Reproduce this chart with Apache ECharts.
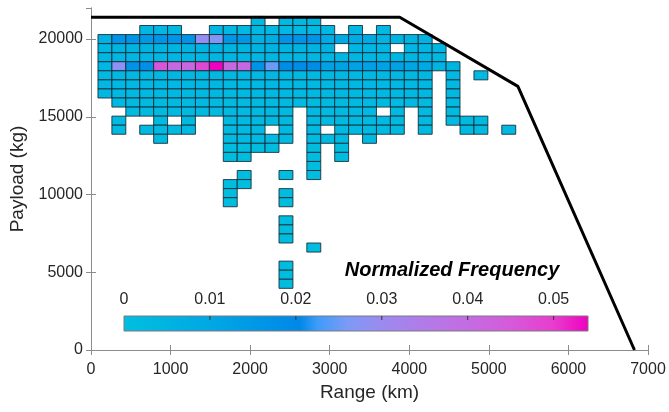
<!DOCTYPE html>
<html>
<head>
<meta charset="utf-8">
<script src="https://cdn.jsdelivr.net/npm/echarts@6/dist/echarts.min.js"></script>
<style>
html,body{margin:0;padding:0;background:#fff;}
#chart{width:669px;height:412px;}
</style>
</head>
<body>
<div id="chart"></div>
<script>
// ---- data ----
const rangeCenters = [175,350,525,700,875,1050,1225,1400,1575,1750,1925,2100,2275,2450,2625,2800,2975,3150,3325,3500,3675,3850,4025,4200,4375,4550,4725,4900,5075,5250,5425];
const payloadCenters = [21166,20583,20000,19417,18834,18251,17668,17085,16502,15919,15336,14753,14170,13587,13004,12421,11838,11255,10672,10089,9506,8923,8340,7757,7174,6591,6008,5425,4842,4259];
// normalized frequency per cell, in units of 0.001 (0 = empty); one row per payload bin, one entry per range bin
const freqRows = [
 [0,0,0,0,0,0,0,0,0,0,0,2,0,2,2,2,0,0,0,0,0,0,0,0,0,0,0,0,0,0,0],
 [0,0,0,3,3,3,0,0,3,3,3,3,3,3,3,3,3,0,3,0,3,0,0,0,0,0,0,0,0,0,0],
 [6,17,17,15,17,17,17,29,27,16,16,6,8,17,17,17,9,9,9,9,5,5,5,5,0,0,0,0,0,0,0],
 [4,5,5,5,5,5,5,5,5,5,5,5,5,5,5,5,5,0,4,4,4,0,4,4,4,0,0,0,0,0,0],
 [4,4,4,4,4,4,4,4,4,4,4,4,4,4,4,4,4,4,4,4,4,4,4,4,3,0,0,0,0,0,0],
 [4,28,17,18,46,41,41,48,54,41,41,17,25,19,19,19,12,12,12,12,12,12,11,10,5,5,0,0,0,0,0],
 [3,3,3,3,3,3,3,3,3,3,3,3,3,3,3,3,3,3,3,3,3,3,3,3,0,3,0,2,0,0,0],
 [3,3,3,3,3,3,3,3,3,3,3,3,3,3,3,3,3,3,3,3,3,3,3,3,0,3,0,0,0,0,0],
 [3,3,3,3,3,3,3,3,3,3,3,3,3,3,3,3,3,3,3,3,3,3,3,3,0,3,0,0,0,0,0],
 [0,2,2,2,2,2,2,2,2,2,2,2,2,2,2,2,2,2,2,2,2,2,2,2,0,2,0,0,0,0,0],
 [0,0,2,2,2,2,2,2,2,2,2,2,2,2,0,2,2,2,2,2,0,2,0,2,0,2,0,0,0,0,0],
 [0,2,0,0,2,0,2,0,0,2,2,2,2,2,0,2,2,2,2,2,2,2,0,2,0,2,2,2,0,0,0],
 [0,2,0,2,2,2,2,0,0,2,2,2,0,2,0,2,0,2,2,2,2,2,0,2,0,0,2,2,0,2,0],
 [0,0,0,0,2,0,0,0,0,2,2,2,2,2,0,2,2,2,0,2,0,0,0,0,0,0,0,0,0,0,0],
 [0,0,0,0,0,0,0,0,0,1,1,1,1,0,0,1,0,1,0,0,0,0,0,0,0,0,0,0,0,0,0],
 [0,0,0,0,0,0,0,0,0,1,1,0,0,0,0,1,0,1,0,0,0,0,0,0,0,0,0,0,0,0,0],
 [0,0,0,0,0,0,0,0,0,0,0,0,0,0,0,1,0,0,0,0,0,0,0,0,0,0,0,0,0,0,0],
 [0,0,0,0,0,0,0,0,0,0,1,0,0,1,0,1,0,0,0,0,0,0,0,0,0,0,0,0,0,0,0],
 [0,0,0,0,0,0,0,0,0,1,1,0,0,0,0,0,0,0,0,0,0,0,0,0,0,0,0,0,0,0,0],
 [0,0,0,0,0,0,0,0,0,1,0,0,0,1,0,0,0,0,0,0,0,0,0,0,0,0,0,0,0,0,0],
 [0,0,0,0,0,0,0,0,0,1,0,0,0,1,0,0,0,0,0,0,0,0,0,0,0,0,0,0,0,0,0],
 [0,0,0,0,0,0,0,0,0,0,0,0,0,0,0,0,0,0,0,0,0,0,0,0,0,0,0,0,0,0,0],
 [0,0,0,0,0,0,0,0,0,0,0,0,0,1,0,0,0,0,0,0,0,0,0,0,0,0,0,0,0,0,0],
 [0,0,0,0,0,0,0,0,0,0,0,0,0,1,0,0,0,0,0,0,0,0,0,0,0,0,0,0,0,0,0],
 [0,0,0,0,0,0,0,0,0,0,0,0,0,1,0,0,0,0,0,0,0,0,0,0,0,0,0,0,0,0,0],
 [0,0,0,0,0,0,0,0,0,0,0,0,0,0,0,1,0,0,0,0,0,0,0,0,0,0,0,0,0,0,0],
 [0,0,0,0,0,0,0,0,0,0,0,0,0,0,0,0,0,0,0,0,0,0,0,0,0,0,0,0,0,0,0],
 [0,0,0,0,0,0,0,0,0,0,0,0,0,1,0,0,0,0,0,0,0,0,0,0,0,0,0,0,0,0,0],
 [0,0,0,0,0,0,0,0,0,0,0,0,0,1,0,0,0,0,0,0,0,0,0,0,0,0,0,0,0,0,0],
 [0,0,0,0,0,0,0,0,0,0,0,0,0,1,0,0,0,0,0,0,0,0,0,0,0,0,0,0,0,0,0]
];
// envelope line (range km, payload kg)
const envelopeRange = [0, 3880, 5365, 6830];
const envelopePayload = [21400, 21400, 16960, 0];
const xTicks = [0,1000,2000,3000,4000,5000,6000,7000];
const yTicks = [0,5000,10000,15000,20000];
const colorbarTicks = [0, 0.01, 0.02, 0.03, 0.04, 0.05];
const colorbarMax = 0.054;
// colormap stops [value, colour]
const cmapStops = [
 [0,'#00bfe0'],[0.01,'#00a8e4'],[0.0205,'#0088e8'],[0.0225,'#3d9cfa'],[0.026,'#7c9af6'],
 [0.03,'#9c8af0'],[0.035,'#b27ae8'],[0.04,'#c46ce2'],[0.045,'#d65ad9'],[0.05,'#e83cce'],[0.054,'#f000c0']
];

// ---- helpers ----
const BIN_W = 175, BIN_H = 583;
function hex2rgb(h){return [parseInt(h.slice(1,3),16),parseInt(h.slice(3,5),16),parseInt(h.slice(5,7),16)];}
function colorFor(v){
  if (v <= cmapStops[0][0]) return cmapStops[0][1];
  for (let i=1;i<cmapStops.length;i++){
    if (v <= cmapStops[i][0]){
      const a=cmapStops[i-1], b=cmapStops[i];
      const t=(v-a[0])/(b[0]-a[0]);
      const ca=hex2rgb(a[1]), cb=hex2rgb(b[1]);
      const c=ca.map((x,k)=>Math.round(x+(cb[k]-x)*t));
      return 'rgb('+c.join(',')+')';
    }
  }
  return cmapStops[cmapStops.length-1][1];
}
const cells = [];
freqRows.forEach((row, r) => {
  row.forEach((f, c) => {
    if (f > 0) cells.push([rangeCenters[c], payloadCenters[r], f/1000]);
  });
});
const envelope = envelopeRange.map((x,i)=>[x, envelopePayload[i]]);

const FONT = '"Liberation Sans", Arial, Helvetica, sans-serif';
const AX = '#8c8c8c', TXT = '#262626';

const chart = echarts.init(document.getElementById('chart'), null, {renderer:'canvas'});

// colorbar graphic
const cbLeft = 124, cbTop = 316, cbW = 464, cbH = 15;
const cbGraphics = [];
cbGraphics.push({
  type:'rect', shape:{x:cbLeft, y:cbTop, width:cbW, height:cbH},
  style:{fill:new echarts.graphic.LinearGradient(0,0,1,0, cmapStops.map(s=>({offset:s[0]/colorbarMax, color:s[1]}))), stroke:'#7a7a7a', lineWidth:1},
  z:10
});
colorbarTicks.forEach(t=>{
  const px = cbLeft + t/colorbarMax*cbW;
  if (t>0) cbGraphics.push({type:'line', shape:{x1:px,y1:cbTop,x2:px,y2:cbTop+4}, style:{stroke:'#333',lineWidth:1}, z:11});
  cbGraphics.push({type:'text', x:px, y:cbTop-8, style:{text:String(t), font:'16px '+FONT, fill:TXT, textAlign:'center', textVerticalAlign:'bottom'}, z:11});
});
cbGraphics.push({type:'text', x:452, y:270, style:{text:'Normalized Frequency', font:'italic bold 20px '+FONT, fill:'#000', textAlign:'center', textVerticalAlign:'middle'}, z:11});

const axisCommon = {
  axisLine:{show:true, lineStyle:{color:AX, width:1}},
  axisTick:{show:true, inside:true, length:5, lineStyle:{color:AX}},
  splitLine:{show:false}
};
const plain = v => String(v);

chart.setOption({
  animation:false,
  backgroundColor:'#ffffff',
  grid:{left:91, right:21, top:8, bottom:62, containLabel:false},
  xAxis:[
    Object.assign({type:'value', min:xTicks[0], max:xTicks[xTicks.length-1], interval:1000, position:'bottom',
      name:'Range (km)', nameLocation:'middle', nameGap:24,
      nameTextStyle:{fontSize:19, color:TXT, fontFamily:FONT, verticalAlign:'top'},
      axisLabel:{fontSize:16, color:TXT, fontFamily:FONT, margin:12, formatter:plain}}, axisCommon),
    Object.assign({type:'value', min:xTicks[0], max:xTicks[xTicks.length-1], interval:1000, position:'top',
      axisLabel:{show:false}}, axisCommon)
  ],
  yAxis:[
    Object.assign({type:'value', min:yTicks[0], max:22000, interval:5000, position:'left',
      name:'Payload (kg)', nameLocation:'middle', nameGap:52, nameRotate:90,
      nameTextStyle:{fontSize:19, color:TXT, fontFamily:FONT},
      axisLabel:{fontSize:16, color:TXT, fontFamily:FONT, margin:8, showMaxLabel:false, formatter:plain}}, axisCommon),
    Object.assign({type:'value', min:yTicks[0], max:22000, interval:5000, position:'right',
      axisLabel:{show:false}}, axisCommon)
  ],
  graphic:cbGraphics,
  series:[
    {
      type:'custom', xAxisIndex:0, yAxisIndex:0, data:cells, clip:true,
      renderItem:function(params, api){
        const x=api.value(0), y=api.value(1), v=api.value(2);
        const p1=api.coord([x-BIN_W/2, y+BIN_H/2]);
        const p2=api.coord([x+BIN_W/2, y-BIN_H/2]);
        return {type:'rect', shape:{x:p1[0], y:p1[1], width:p2[0]-p1[0], height:p2[1]-p1[1]},
          style:{fill:colorFor(v), stroke:'rgba(20,40,50,0.85)', lineWidth:1}};
      },
      z:2
    },
    {
      type:'line', xAxisIndex:0, yAxisIndex:0, data:envelope, symbol:'none',
      lineStyle:{color:'#000', width:3}, z:5, clip:false
    }
  ]
});
</script>
</body>
</html>
